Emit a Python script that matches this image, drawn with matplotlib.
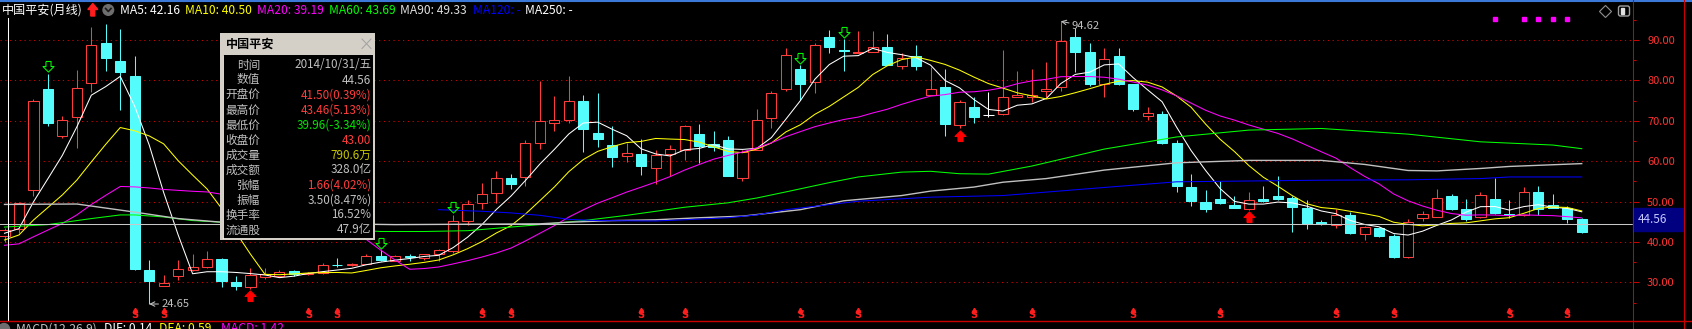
#中国平安 月线 K线图 (仿行情软件)
import numpy as np
import matplotlib
matplotlib.use('Agg')
import matplotlib.pyplot as plt
import matplotlib.transforms as mtransforms
from matplotlib.patches import Rectangle, Circle, Polygon, FancyBboxPatch
from matplotlib.lines import Line2D

plt.rcParams['font.family'] = ['Noto Sans CJK SC', 'DejaVu Sans']

############################### données
# clôtures des mois avant la fenêtre visible (pour MA5/10/20)
prev_close = [42.5, 40.1, 36.0, 37.5, 35.9, 37.6, 39.8, 38.5, 35.3, 35.6,
              37.2, 38.0, 38.4, 39.1, 41.5, 43.8, 41.9, 40.76, 41.34]

open_ = [41.50, 43.2, 52.8, 77.8, 66.2, 71.0, 79.3, 89.2, 84.8, 81.1,
         33.1, 29.2, 31.7, 33.1, 33.8, 35.8, 30.2, 28.8, 31.3, 31.5,
         32.7, 32.2, 32.3, 34.4, 34.2, 34.6, 36.5, 35.3, 36.5, 36.1,
         37.1, 37.7, 45.2, 49.6, 52.1, 55.9, 56.1, 64.4, 69.5, 70.1,
         75.0, 67.1, 64.1, 61.3, 61.9, 58.2, 61.9, 62.7, 66.8, 64.2,
         65.2, 55.9, 62.7, 70.6, 77.8, 82.8, 79.7, 90.8, 87.6, 86.8,
         87.1, 88.3, 83.6, 86.0, 76.5, 78.3, 69.0, 73.3, 71.4, 71.6,
         76.0, 75.9, 77.4, 78.3, 90.7, 87.1, 79.0, 86.1, 79.0, 71.1,
         71.8, 64.5, 53.6, 49.9, 50.6, 49.1, 48.2, 50.6, 51.3, 51.0,
         48.5, 44.9, 44.1, 46.7, 42.0, 43.5, 41.6, 36.2, 46.0, 46.3,
         51.5, 48.2, 46.2, 50.7, 47.0, 46.6, 52.5, 49.2, 48.5, 45.8]
high = [43.46, 50.0, 75.3, 81.7, 71.1, 82.6, 93.3, 93.9, 92.7, 86.1,
        35.6, 31.9, 35.6, 37.1, 37.7, 36.0, 31.7, 33.6, 33.5, 33.0,
        33.0, 32.6, 34.7, 36.1, 34.8, 37.1, 37.9, 36.8, 37.1, 37.1,
        38.3, 46.8, 50.5, 54.7, 57.5, 56.9, 65.2, 79.9, 76.1, 81.1,
        76.4, 76.9, 68.7, 64.5, 65.4, 62.7, 63.9, 68.9, 69.3, 67.4,
        66.2, 62.7, 72.9, 77.4, 88.1, 83.8, 89.3, 92.5, 90.2, 92.2,
        92.2, 91.4, 86.9, 88.8, 83.4, 82.8, 75.1, 75.8, 77.2, 87.5,
        82.3, 82.7, 84.6, 94.62, 92.9, 89.2, 87.9, 87.9, 79.2, 73.5,
        72.5, 65.2, 56.9, 52.8, 55.1, 51.3, 52.4, 53.9, 56.3, 51.5,
        50.3, 45.5, 48.2, 47.4, 43.9, 43.7, 42.0, 45.8, 47.6, 53.2,
        51.8, 50.7, 52.5, 55.9, 50.3, 53.6, 53.8, 52.0, 48.9, 46.0]
low = [39.96, 42.2, 51.5, 68.7, 65.8, 63.3, 77.2, 82.3, 72.6, 33.0,
       24.65, 29.0, 30.6, 32.9, 33.6, 28.8, 28.1, 28.4, 30.8, 31.3,
       31.6, 31.8, 32.2, 33.9, 34.1, 34.5, 35.2, 35.2, 35.4, 35.6,
       35.4, 37.2, 44.3, 48.2, 49.6, 53.0, 53.9, 63.0, 67.4, 69.5,
       62.3, 63.5, 58.6, 59.8, 56.5, 54.4, 56.3, 60.2, 59.6, 62.5,
       56.3, 55.0, 62.7, 68.2, 77.5, 75.1, 76.9, 86.7, 82.4, 86.8,
       87.1, 83.8, 82.8, 82.6, 76.5, 66.3, 68.1, 69.4, 71.0, 71.4,
       75.8, 74.7, 76.0, 77.4, 82.1, 78.6, 75.8, 78.8, 72.4, 70.3,
       64.2, 52.4, 48.8, 47.4, 49.4, 48.3, 48.0, 49.9, 50.5, 42.4,
       43.3, 44.2, 43.5, 42.0, 40.5, 41.3, 36.0, 36.0, 45.3, 46.1,
       47.8, 45.3, 46.0, 47.0, 46.0, 46.5, 46.6, 48.3, 44.7, 42.2]
close = [43.00, 49.6, 74.9, 69.5, 70.3, 78.2, 88.8, 85.6, 82.1, 33.3,
         30.3, 29.9, 33.3, 33.9, 35.8, 30.3, 29.0, 31.9, 32.2, 32.5,
         32.1, 32.35, 34.2, 34.2, 34.6, 36.5, 35.6, 36.6, 36.3, 37.1,
         37.9, 45.1, 49.5, 52.0, 55.9, 54.3, 64.4, 69.9, 70.1, 75.0,
         67.9, 65.4, 61.1, 62.1, 58.8, 61.6, 62.9, 68.7, 63.8, 63.5,
         56.3, 62.3, 70.1, 77.0, 86.3, 79.2, 88.8, 88.3, 87.4, 86.95,
         88.2, 83.8, 85.5, 83.6, 77.8, 69.2, 74.7, 71.0, 71.4, 75.8,
         76.4, 76.3, 77.8, 89.8, 87.1, 79.2, 85.3, 79.0, 72.8, 72.0,
         64.5, 53.9, 50.1, 48.2, 49.6, 48.5, 50.5, 50.1, 50.7, 48.6,
         44.5, 44.5, 46.8, 42.2, 43.7, 41.6, 36.2, 44.9, 47.0, 51.0,
         48.2, 45.8, 51.7, 47.2, 46.6, 52.5, 48.2, 48.5, 45.8, 42.4]

# moyennes longues (indice de bougie, valeur)
ma60_at = [0, 3, 6, 8, 9, 11, 13, 15, 26, 29, 32, 34, 37, 40, 43, 45, 47, 50,
           52, 54, 57, 59, 62, 64, 66, 68, 71, 76, 81, 86, 91, 97, 102, 107, 109]
ma60_val = [43.7, 44.3, 45.8, 46.7, 46.7, 46.2, 45.3, 44.9, 42.6, 42.6, 42.8, 43.4,
            44.3, 45.3, 46.6, 47.6, 48.6, 49.7, 50.9, 52.4, 54.7, 56.1, 57.3, 57.5,
            56.9, 56.8, 58.8, 63.0, 66.0, 67.7, 68.1, 66.7, 64.8, 64.0, 63.1]
ma90_at = [0, 5, 9, 12, 15, 27, 37, 39, 42, 45, 48, 51, 53, 55, 58, 62, 64, 67,
           69, 72, 76, 81, 86, 91, 94, 97, 99, 102, 104, 109]
ma90_val = [49.3, 49.4, 47.4, 45.8, 44.9, 44.3, 44.5, 44.9, 45.3, 45.5, 46.0, 46.4,
            47.2, 48.0, 50.2, 51.5, 52.6, 53.6, 54.8, 55.7, 57.8, 59.6, 60.2, 60.2,
            59.2, 57.7, 57.6, 58.2, 58.7, 59.4]
ma120_at = [30, 33, 35, 37, 39, 41, 45, 47, 50, 52, 54, 59, 64, 69, 76, 81, 86,
            91, 97, 102, 104, 109]
ma120_val = [48.0, 47.6, 47.2, 46.6, 45.6, 45.3, 45.2, 45.5, 46.0, 46.7, 48.0, 50.1,
             51.1, 51.5, 53.5, 54.9, 55.1, 55.3, 55.4, 55.7, 56.1, 56.1]

arrow_down_idx = [3, 26, 31, 55, 58]     # flèches vertes
arrow_up_idx = [17, 66, 86]              # flèches rouges
dividend_idx = [9, 11, 21, 23, 33, 35, 44, 47, 55, 59, 67, 71, 78, 84, 92, 96, 104, 108]
signal_idx = [103, 105, 106, 107, 108]   # petits carrés magenta
cursor_value = 44.56

header_items = [('MA5: 42.16', '#FFFFFF'), ('MA10: 40.50', '#FFFF00'),
                ('MA20: 39.19', '#FF00FF'), ('MA60: 43.69', '#00FF00'),
                ('MA90: 49.33', '#E0E0E0'), ('MA120: -', '#0000FF'),
                ('MA250: -', '#FFFFFF')]
header_x = [119.6, 185, 257, 328.6, 400, 473, 525]

tip_labels = ['时间', '数值', '开盘价', '最高价', '最低价', '收盘价',
              '成交量', '成交额', '张幅', '振幅', '换手率', '流通股']
tip_values = ['2014/10/31/五', '44.56', '41.50(0.39%)', '43.46(5.13%)',
              '39.96(-3.34%)', '43.00', '790.6万', '328.0亿', '1.66(4.02%)',
              '3.50(8.47%)', '16.52%', '47.9亿']
tip_colors = ['#C0C0C0', '#C0C0C0', '#FF3C3C', '#FF3C3C', '#00E600', '#FF3C3C',
              '#C8C800', '#C0C0C0', '#FF3C3C', '#C0C0C0', '#C0C0C0', '#C0C0C0']

############################### figure
W, H = 1692, 329
RED = '#FF3C3C'
CYAN = '#54FCFC'
AXRED = '#C80000'
LW = 0.75  # ~1 px

fig = plt.figure(figsize=(W / 100, H / 100), dpi=100, facecolor='black')

AX_R, AX_T, AX_B = 1633, 2, 321
ax = fig.add_axes([0, 1 - AX_B / H, AX_R / W, (AX_B - AX_T) / H])
ax.set_facecolor('black')
STEP, X0, PPU = 14.47, 4.5, 4.04
ax.set_xlim(-X0 / STEP, (AX_R - X0) / STEP)
ax.set_ylim(90 - (AX_B - 40) / PPU, 90 + (40 - AX_T) / PPU)

o = np.array(open_); h = np.array(high); l = np.array(low); c = np.array(close)
x = np.arange(len(c))
up = c > o
dn = c < o
fl = c == o

# bougies
ax.vlines(x[up], l[up], h[up], color=RED, lw=LW, zorder=2)
ax.vlines(x[dn], l[dn], h[dn], color=CYAN, lw=LW, zorder=2)
ax.vlines(x[fl], l[fl], h[fl], color='white', lw=LW, zorder=2)
ax.bar(x[up], c[up] - o[up], bottom=o[up], width=0.7, facecolor='black',
       edgecolor=RED, lw=LW, zorder=3)
ax.bar(x[dn], c[dn] - o[dn], bottom=o[dn], width=0.7, facecolor=CYAN,
       edgecolor=CYAN, lw=LW, zorder=3)
ax.hlines(c[fl], x[fl] - 0.35, x[fl] + 0.35, color='white', lw=LW, zorder=3)

# moyennes mobiles
allc = np.concatenate([prev_close, close])
npv = len(prev_close)
def mm(n):
    return np.array([allc[k - n + 1:k + 1].mean() for k in range(npv, len(allc))])

ax.plot(x, mm(5), color='white', lw=LW, zorder=4)
ax.plot(x, mm(10), color='#FFFF00', lw=LW, zorder=4)
ax.plot(x, mm(20), color='#FF00FF', lw=LW, zorder=4)
ax.plot(ma60_at, ma60_val, color='#00FF00', lw=LW, zorder=4)
ax.plot(ma90_at, ma90_val, color='#C0C0C0', lw=1.0, zorder=4)
ax.plot(ma120_at, ma120_val, color='#0000FF', lw=LW, zorder=4)

# curseur
ax.axhline(cursor_value, color='#C8C8C8', lw=LW, zorder=4)
ax.axvline(0.26, ymax=(AX_B - 18) / (AX_B - AX_T), color='white', lw=LW, zorder=4)

# flèches
arr_dn = [(-0.25, 0.5), (0.25, 0.5), (0.25, 0.0), (0.55, 0.0), (0.0, -0.55),
          (-0.55, 0.0), (-0.25, 0.0), (-0.25, 0.5)]
arr_up = [(px, -py) for px, py in arr_dn]
off_up = ax.transData + mtransforms.ScaledTranslation(0, 0.075, fig.dpi_scale_trans)
off_dn = ax.transData + mtransforms.ScaledTranslation(0, -0.075, fig.dpi_scale_trans)
ax.plot(arrow_down_idx, h[arrow_down_idx], ls='none', marker=arr_dn, ms=8,
        mfc='none', mec='#00FF00', mew=LW, transform=off_up, zorder=5)
ax.plot(arrow_up_idx, l[arrow_up_idx], ls='none', marker=arr_up, ms=8,
        mfc='#FF0000', mec='#FF0000', mew=LW, transform=off_dn, zorder=5)

# marqueurs du bas et du haut
blend = mtransforms.blended_transform_factory(ax.transData, ax.transAxes)
for i in dividend_idx:
    ax.text(i, 0.002, 'S', transform=blend, color='#FF1E1E', fontsize=7,
            fontweight='bold', family='DejaVu Sans', ha='center', va='bottom', zorder=5)
ax.plot(dividend_idx, [0.034] * len(dividend_idx), ls='none', marker='^', ms=3.2,
        color='#FF1E1E', transform=blend, zorder=5)
ax.plot(signal_idx, [0.947] * len(signal_idx), ls='none', marker='s', ms=2.3,
        color='#FF00FF', transform=blend, zorder=5)

# extrêmes
ax.annotate('94.62', xy=(73, 94.62), xytext=(11, -5), textcoords='offset pixels',
            color='#C0C0C0', fontsize=8, va='center', ha='left',
            arrowprops=dict(arrowstyle='->', color='#C0C0C0', lw=LW,
                            shrinkA=0, shrinkB=0), zorder=6)
ax.annotate('24.65', xy=(10, 24.65), xytext=(12, 0), textcoords='offset pixels',
            color='#C0C0C0', fontsize=8, va='center', ha='left',
            arrowprops=dict(arrowstyle='->', color='#C0C0C0', lw=LW,
                            shrinkA=0, shrinkB=0), zorder=6)

# axe des prix à droite
for s in ax.spines.values():
    s.set_visible(False)
ax.set_xticks([])
ax.yaxis.tick_right()
ax.set_yticks(np.arange(30, 100, 10))
ax.set_yticklabels(['%.2f' % v for v in np.arange(30, 100, 10)])
ax.set_yticks(np.arange(25, 100, 10), minor=True)
ax.tick_params(axis='y', which='major', colors=AXRED, labelcolor='#FF3232',
               labelsize=8, length=4.3, width=LW, pad=5.8)
ax.tick_params(axis='y', which='minor', colors=AXRED, length=2.2, width=LW)
ax.grid(axis='y', which='major', color=AXRED, lw=LW, linestyle=(0, (1.2, 3.4)))

############################### surcouche en pixels
ov = fig.add_axes([0, 0, 1, 1], zorder=5)
ov.set_xlim(0, W)
ov.set_ylim(H, 0)
ov.axis('off')
ov.patch.set_alpha(0)

ov.add_line(Line2D([0, W], [0.8, 0.8], color='#3C78D8', lw=1.5))
ov.add_line(Line2D([AX_R, AX_R], [0, H], color=AXRED, lw=LW))
ov.add_line(Line2D([1684, 1684], [0, H], color=AXRED, lw=LW))
ov.add_line(Line2D([0, W], [AX_B, AX_B], color=AXRED, lw=1.0))

# en-tête
ov.text(1.8, 10, '中国平安(月线)', color='white', fontsize=8.7, va='center', ha='left')
ov.add_patch(Polygon([(92.8, 3.5), (97.8, 9.5), (94.8, 9.5), (94.8, 16), (90.8, 16),
                      (90.8, 9.5), (87.8, 9.5)], closed=True, color='#FF1E1E'))
ov.add_patch(Circle((108.3, 10), 5.3, color='#6E6E6E'))
ov.add_line(Line2D([105.6, 108.3, 111], [8.5, 11.5, 8.5], color='#1A1A1A', lw=1.2))
for (txt, col), px in zip(header_items, header_x):
    ov.text(px, 10, txt, color=col, fontsize=8.7, va='center', ha='left')

# icônes en haut à droite
ov.plot([1605], [11], marker='D', ms=6, mfc='none', mec='#909090', mew=0.8)
ov.add_patch(FancyBboxPatch((1618.5, 6), 11, 10, boxstyle='round,pad=0,rounding_size=2',
                            fc='none', ec='#A0A0A0', lw=1.0))
ov.add_patch(Rectangle((1620.5, 8), 3, 6, color='#E0E0E0'))

# étiquette du curseur
ov.add_patch(Rectangle((AX_R, 208), 1684 - AX_R, 23, color='#000080'))
ov.text(1638, 219.5, '%.2f' % cursor_value, color='#C8C8FF', fontsize=8.5,
        va='center', ha='left')

# fenêtre d'information
ov.add_patch(Rectangle((220, 33.3), 155, 206.7, facecolor='#D4D0C8', edgecolor='none'))
ov.add_patch(Rectangle((222.7, 55), 150, 183, facecolor='black', edgecolor='none'))
ov.add_line(Line2D([222.7, 222.7], [55, 238], color='#FFFFFF', lw=0.6))
ov.text(226, 44, '中国平安', color='black', fontsize=8.7, fontweight='bold',
        va='center', ha='left')
ov.add_line(Line2D([362, 371], [39, 48.5], color='#A0A0A0', lw=0.7))
ov.add_line(Line2D([362, 371], [48.5, 39], color='#A0A0A0', lw=0.7))
for k, (lab, val, col) in enumerate(zip(tip_labels, tip_values, tip_colors)):
    yy = 65 + 15 * k
    ov.text(260, yy, lab, color='#C0C0C0', fontsize=8.4, va='center', ha='right')
    ov.text(371.5, yy, val, color=col, fontsize=8.4, va='center', ha='right')

# ligne MACD (coupée en bas)
ov.add_patch(Circle((4, 329), 5.5, color='#6E6E6E'))
macd_items = [('MACD(12,26,9)', '#C0C0C0', 16), ('DIF: 0.14', '#FFFFFF', 104),
              ('DEA: 0.59', '#FFFF00', 159), ('MACD: 1.42', '#FF00FF', 221)]
for txt, col, px in macd_items:
    ov.text(px, 322.5, txt, color=col, fontsize=8.7, va='top', ha='left')

fig.savefig('out.png', dpi=100, facecolor='black')
